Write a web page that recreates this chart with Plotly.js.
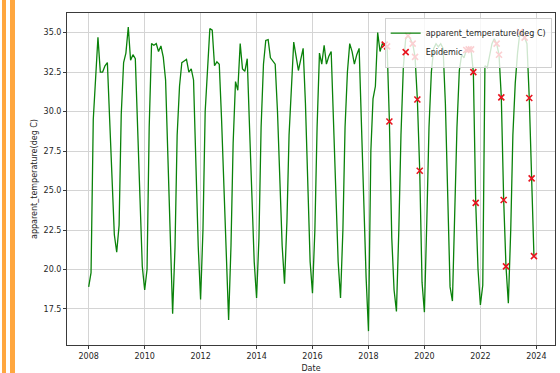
<!DOCTYPE html>
<html>
<head>
<meta charset="utf-8">
<script src="https://cdn.plot.ly/plotly-3.0.1.min.js"></script>
<style>
  html, body { margin: 0; padding: 0; background: #ffffff; }
  #wrap { position: relative; width: 560px; height: 373px; }
  #chart { position: absolute; left: 0; top: 0; width: 560px; height: 373px; }
  .stripe { position: absolute; top: 0; height: 373px; background: #ffa73f; z-index: 5; }
</style>
</head>
<body>
<div id="wrap">
  <div id="chart"></div>
  <div class="stripe" style="left:2px;width:4px;"></div>
  <div class="stripe" style="left:10px;width:5px;"></div>
</div>
<script>
// Monthly apparent temperature (deg C), Jan 2008 .. Dec 2023
const startYear = 2008;
const apparentTemp = [
  // 2008
  18.9, 19.8, 29.5, 32.3, 34.7, 32.5, 32.5, 32.9, 33.1, 29.5, 25.5, 22.2,
  // 2009
  21.1, 22.8, 29.8, 33.1, 33.7, 35.35, 33.25, 33.6, 33.35, 29.5, 24.5, 20.2,
  // 2010
  18.7, 20.0, 29.0, 34.3, 34.2, 34.3, 33.8, 34.15, 33.45, 32.0, 27.0, 21.5,
  // 2011
  17.2, 21.4, 28.5, 31.6, 33.1, 33.2, 33.3, 32.5, 32.7, 32.0, 26.5, 21.5,
  // 2012
  18.1, 22.5, 30.0, 33.0, 35.25, 35.15, 32.9, 33.15, 33.0, 29.5, 25.5, 21.5,
  // 2013
  16.8, 21.5, 28.0, 31.9, 31.35, 34.3, 32.7, 32.55, 33.35, 29.0, 24.0, 20.5,
  // 2014
  18.2, 22.0, 29.0, 33.0, 34.5, 34.55, 33.4, 33.2, 33.0, 30.0, 25.0, 21.5,
  // 2015
  19.1, 23.0, 28.5, 32.0, 34.4, 33.5, 32.6, 33.3, 34.0, 30.5, 24.5, 20.5,
  // 2016
  18.5, 22.5, 29.0, 33.7, 33.0, 34.2, 33.0, 33.5, 33.8, 29.5, 24.0, 20.5,
  // 2017
  18.2, 22.5, 29.0, 32.5, 34.3, 33.8, 33.0, 33.6, 34.0, 29.5, 23.5, 19.5,
  // 2018
  16.1, 27.5, 30.8, 31.6, 35.0, 33.8, 34.3, 34.24, 34.13, 29.37, 22.0, 18.7,
  // 2019
  17.35, 22.5, 28.5, 32.8, 34.6, 34.8, 34.6, 34.3, 33.46, 30.76, 26.25, 19.2,
  // 2020
  17.3, 23.0, 29.0, 32.5, 34.0, 34.3, 34.1, 34.3, 34.0, 30.5, 24.0, 18.9,
  // 2021
  18.0, 23.5, 29.0, 32.6, 33.6, 33.4, 33.9, 33.94, 33.94, 32.5, 24.22, 20.0,
  // 2022
  17.75, 19.0, 32.9, 32.8, 33.5, 34.3, 34.6, 34.3, 33.6, 30.9, 24.4, 20.2,
  // 2023
  17.86, 22.5, 28.5, 31.8, 33.7, 35.04, 34.9, 34.68, 34.3, 30.86, 25.77, 20.85
];

const epidemicDates = [
  '2018-08-01', '2018-09-01', '2018-10-01',
  '2019-06-01', '2019-08-01', '2019-09-01', '2019-10-01', '2019-11-01',
  '2021-07-01', '2021-08-01', '2021-09-01', '2021-10-01', '2021-11-01',
  '2022-08-01', '2022-09-01', '2022-10-01', '2022-11-01', '2022-12-01',
  '2023-06-01', '2023-08-01', '2023-10-01', '2023-11-01', '2023-12-01'
];
const epidemicValues = [
  34.24, 34.13, 29.37,
  34.8, 34.3, 33.46, 30.76, 26.25,
  33.9, 33.94, 33.94, 32.5, 24.22,
  34.3, 33.6, 30.9, 24.4, 20.2,
  35.04, 34.68, 30.86, 25.77, 20.85
];

const seriesName = 'apparent_temperature(deg C)';
const epidemicName = 'Epidemic';
const xTitle = 'Date';
const yTitle = 'apparent_temperature(deg C)';

const dates = apparentTemp.map((_, i) =>
  (startYear + Math.floor(i / 12)) + '-' + String(i % 12 + 1).padStart(2, '0') + '-01');

const font = { family: 'DejaVu Sans, sans-serif', size: 8, color: '#262626' };

const traces = [
  {
    x: dates, y: apparentTemp, type: 'scatter', mode: 'lines', name: seriesName,
    line: { color: '#0a820a', width: 1.3 }
  },
  {
    x: epidemicDates, y: epidemicValues, type: 'scatter', mode: 'markers', name: epidemicName,
    marker: { symbol: 'x-thin', size: 6, color: '#e8141e', line: { color: '#e8141e', width: 1.6 } }
  }
];

const axisCommon = {
  showgrid: true, gridcolor: '#d4d4d4', gridwidth: 1,
  showline: true, mirror: true, linecolor: '#3a3a3a', linewidth: 1,
  ticks: 'outside', ticklen: 3, tickcolor: '#3a3a3a', tickwidth: 1,
  zeroline: false, tickfont: font
};

const layout = {
  width: 560, height: 373,
  margin: { l: 67, r: 5, t: 13, b: 28 },
  paper_bgcolor: '#ffffff', plot_bgcolor: '#ffffff',
  font: font,
  showlegend: true,
  xaxis: Object.assign({}, axisCommon, {
    type: 'date', range: ['2007-03-24', '2024-09-01'],
    tick0: '2008-01-01', dtick: 'M24', tickformat: '%Y',
    title: { text: xTitle, font: font, standoff: 5 }
  }),
  yaxis: Object.assign({}, axisCommon, {
    range: [15.22, 36.24], tick0: 17.5, dtick: 2.5, tickformat: '.1f',
    title: { text: yTitle, font: font, standoff: 4 }
  }),
  legend: {
    x: 0.9932, y: 0.986, xanchor: 'right', yanchor: 'top',
    bgcolor: 'rgba(255,255,255,0.8)', bordercolor: '#d0d0d0', borderwidth: 1,
    font: font, itemwidth: 30, tracegroupgap: 0
  }
};

Plotly.newPlot('chart', traces, layout, { staticPlot: true, displayModeBar: false });
</script>
</body>
</html>
